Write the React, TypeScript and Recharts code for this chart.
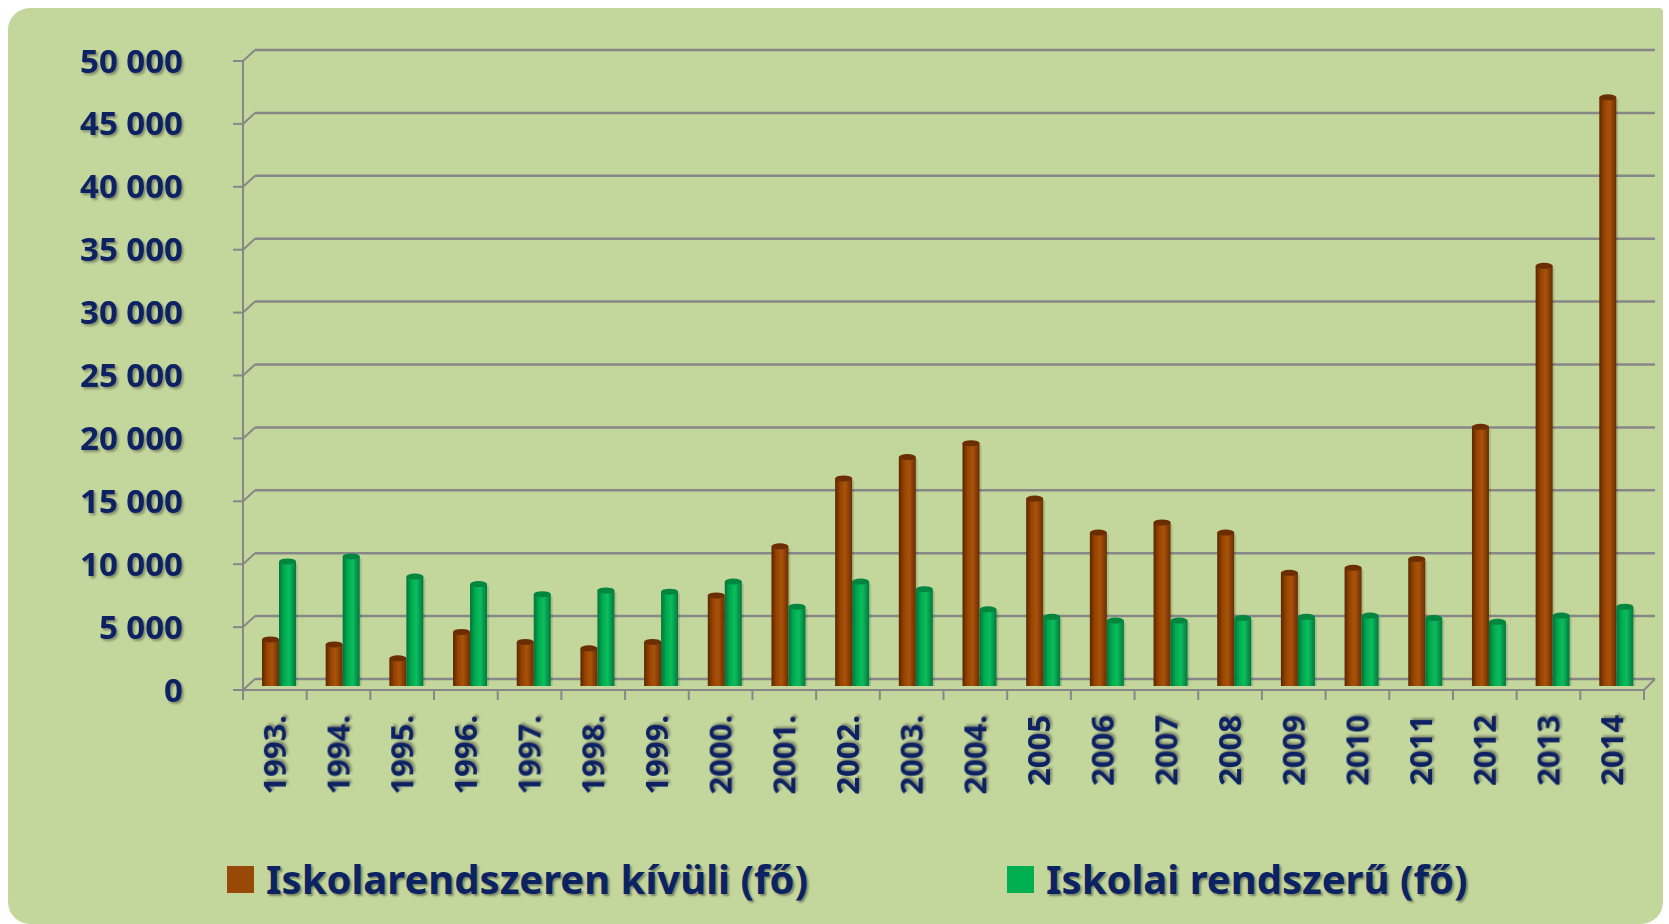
import { BarChart, Bar, XAxis, YAxis, CartesianGrid, Legend } from "recharts";

const years = [
  "1993.", "1994.", "1995.", "1996.", "1997.", "1998.", "1999.", "2000.", "2001.", "2002.", "2003.",
  "2004.", "2005", "2006", "2007", "2008", "2009", "2010", "2011", "2012", "2013", "2014",
];
const outsideSchool = [
  3700, 3300, 2200, 4300, 3500, 3000, 3500, 7200, 11100, 16500, 18200,
  19300, 14900, 12200, 13000, 12200, 9000, 9400, 10100, 20600, 33400, 46800,
];
const inSchool = [
  9900, 10300, 8700, 8100, 7300, 7600, 7500, 8300, 6300, 8300, 7700,
  6100, 5500, 5200, 5200, 5400, 5500, 5600, 5400, 5100, 5600, 6300,
];
const yTicks = [0, 5000, 10000, 15000, 20000, 25000, 30000, 35000, 40000, 45000, 50000];
const seriesOrder = ["outside", "school"];

const data = years.map((year, i) => ({ year, outside: outsideSchool[i], school: inSchool[i] }));

const W = 1655;
const H = 916;
const M = { top: 53, right: 19, left: 0, bottom: 0 };
const Y_W = 235;
const X_H = 234;
const NAVY = "#0b2263";
const GRID = "#878787";
const FONT = "'Noto Sans', 'DejaVu Sans', sans-serif";
const BAND = (W - M.right - Y_W) / years.length;
// fake 3D depth: bars sit half-way back from the front axis
const DEPTH_X = 4;
const DEPTH_Y = -4;

const fmt = (v: number) => String(v).replace(/\B(?=(\d{3})+(?!\d))/g, " ");

function YTick(props: any) {
  const { x, y, payload } = props;
  return (
    <text
      x={x}
      y={y}
      dy="0.35em"
      textAnchor="end"
      fill={NAVY}
      fontFamily={FONT}
      fontWeight={700}
      fontSize={33}
      filter="url(#txtShadow)"
    >
      {fmt(payload.value)}
    </text>
  );
}

function XTick(props: any) {
  const { x, y, payload, index } = props;
  const left = x - BAND / 2;
  return (
    <g>
      <line x1={left} y1={y} x2={left} y2={y + 10} stroke={GRID} strokeWidth={2} />
      {index === years.length - 1 && (
        <g>
          <line x1={x + BAND / 2} y1={y} x2={x + BAND / 2} y2={y + 10} stroke={GRID} strokeWidth={2} />
          <line x1={x + BAND / 2} y1={y} x2={x + BAND / 2 + 11} y2={y - 11} stroke={GRID} strokeWidth={2} />
        </g>
      )}
      <text
        x={x}
        y={y + 25}
        dy="0.35em"
        textAnchor="end"
        transform={`rotate(-90, ${x}, ${y + 25})`}
        fill={NAVY}
        fontFamily={FONT}
        fontWeight={700}
        fontSize={31}
        filter="url(#txtShadow)"
      >
        {payload.value}
      </text>
    </g>
  );
}

// back-wall gridline with the little 3D diagonal from the axis
function GridLine(props: any) {
  const { x1, x2, y1 } = props;
  return (
    <g key={`gl-${y1}`}>
      <line x1={x1} y1={y1} x2={x1 + 12} y2={y1 - 11} stroke={GRID} strokeWidth={2} />
      <line x1={x1 + 12} y1={y1 - 11} x2={x2 + 11} y2={y1 - 11} stroke={GRID} strokeWidth={2.5} />
    </g>
  );
}

function Cylinder(props: any) {
  const { x, y, width, height, gradId, cap } = props;
  if (!height || height <= 0) return null;
  const bx = x + DEPTH_X;
  const by = y + DEPTH_Y;
  return (
    <g>
      <rect x={bx + 2} y={by + 2} width={width} height={height - 2} fill="#000" opacity={0.12} />
      <rect x={bx} y={by} width={width} height={height} fill={`url(#${gradId})`} />
      <ellipse cx={bx + width / 2} cy={by} rx={width / 2} ry={3} fill={cap} />
    </g>
  );
}

function LegendContent(props: any) {
  const { payload = [] } = props;
  const items = [...payload].sort(
    (a: any, b: any) => seriesOrder.indexOf(a.dataKey) - seriesOrder.indexOf(b.dataKey)
  );
  return (
    <div
      style={{
        display: "flex",
        alignItems: "center",
        fontFamily: FONT,
        fontWeight: 700,
        fontSize: 40,
        color: NAVY,
        whiteSpace: "nowrap",
      }}
    >
      {items.map((e: any, i: number) => (
        <div key={e.value} style={{ display: "flex", alignItems: "center", width: i === 0 ? 780 : undefined }}>
          <span style={{ display: "inline-block", width: 27, height: 27, background: e.color, marginRight: 12 }} />
          <span style={{ textShadow: "2px 2px 2px rgba(40,40,40,0.45)", lineHeight: "46px" }}>{e.value}</span>
        </div>
      ))}
    </div>
  );
}

export default function App() {
  return (
    <div
      style={{
        position: "absolute",
        left: 8,
        top: 8,
        width: W,
        height: H,
        background: "#c3d69b",
        borderRadius: "22px 4px 22px 22px",
      }}
    >
      <BarChart width={W} height={H} data={data} margin={M} barSize={17} barGap={0}>
        <defs>
          <filter id="txtShadow" x="-10%" y="-10%" width="130%" height="140%">
            <feDropShadow dx="2" dy="2" stdDeviation="1.2" floodColor="#333" floodOpacity="0.45" />
          </filter>
          <linearGradient id="gBrown" x1="0" y1="0" x2="1" y2="0">
            <stop offset="0%" stopColor="#5a2600" />
            <stop offset="30%" stopColor="#974400" />
            <stop offset="60%" stopColor="#a9520c" />
            <stop offset="100%" stopColor="#6a2e00" />
          </linearGradient>
          <linearGradient id="gGreen" x1="0" y1="0" x2="1" y2="0">
            <stop offset="0%" stopColor="#00733a" />
            <stop offset="30%" stopColor="#00ab50" />
            <stop offset="60%" stopColor="#0cbd5c" />
            <stop offset="100%" stopColor="#00783e" />
          </linearGradient>
        </defs>
        <CartesianGrid vertical={false} horizontal={GridLine} />
        <XAxis
          dataKey="year"
          interval={0}
          height={X_H}
          tickSize={0}
          tickMargin={0}
          tick={<XTick />}
          axisLine={{ stroke: GRID, strokeWidth: 2 }}
          tickLine={false}
        />
        <YAxis
          width={Y_W}
          domain={[0, 50000]}
          ticks={yTicks}
          interval={0}
          tickSize={10}
          tickMargin={50}
          tick={<YTick />}
          axisLine={{ stroke: GRID, strokeWidth: 2 }}
          tickLine={{ stroke: GRID, strokeWidth: 2 }}
        />
        <Legend
          verticalAlign="middle"
          align="center"
          layout="horizontal"
          content={<LegendContent />}
          wrapperStyle={{ left: 219, top: 848, width: 1400 }}
        />
        <Bar
          dataKey="outside"
          name="Iskolarendszeren kívüli (fő)"
          fill="#984807"
          isAnimationActive={false}
          shape={(p: any) => <Cylinder {...p} gradId="gBrown" cap="#6b2e02" />}
        />
        <Bar
          dataKey="school"
          name="Iskolai rendszerű (fő)"
          fill="#00b050"
          isAnimationActive={false}
          shape={(p: any) => <Cylinder {...p} gradId="gGreen" cap="#00863f" />}
        />
      </BarChart>
    </div>
  );
}
